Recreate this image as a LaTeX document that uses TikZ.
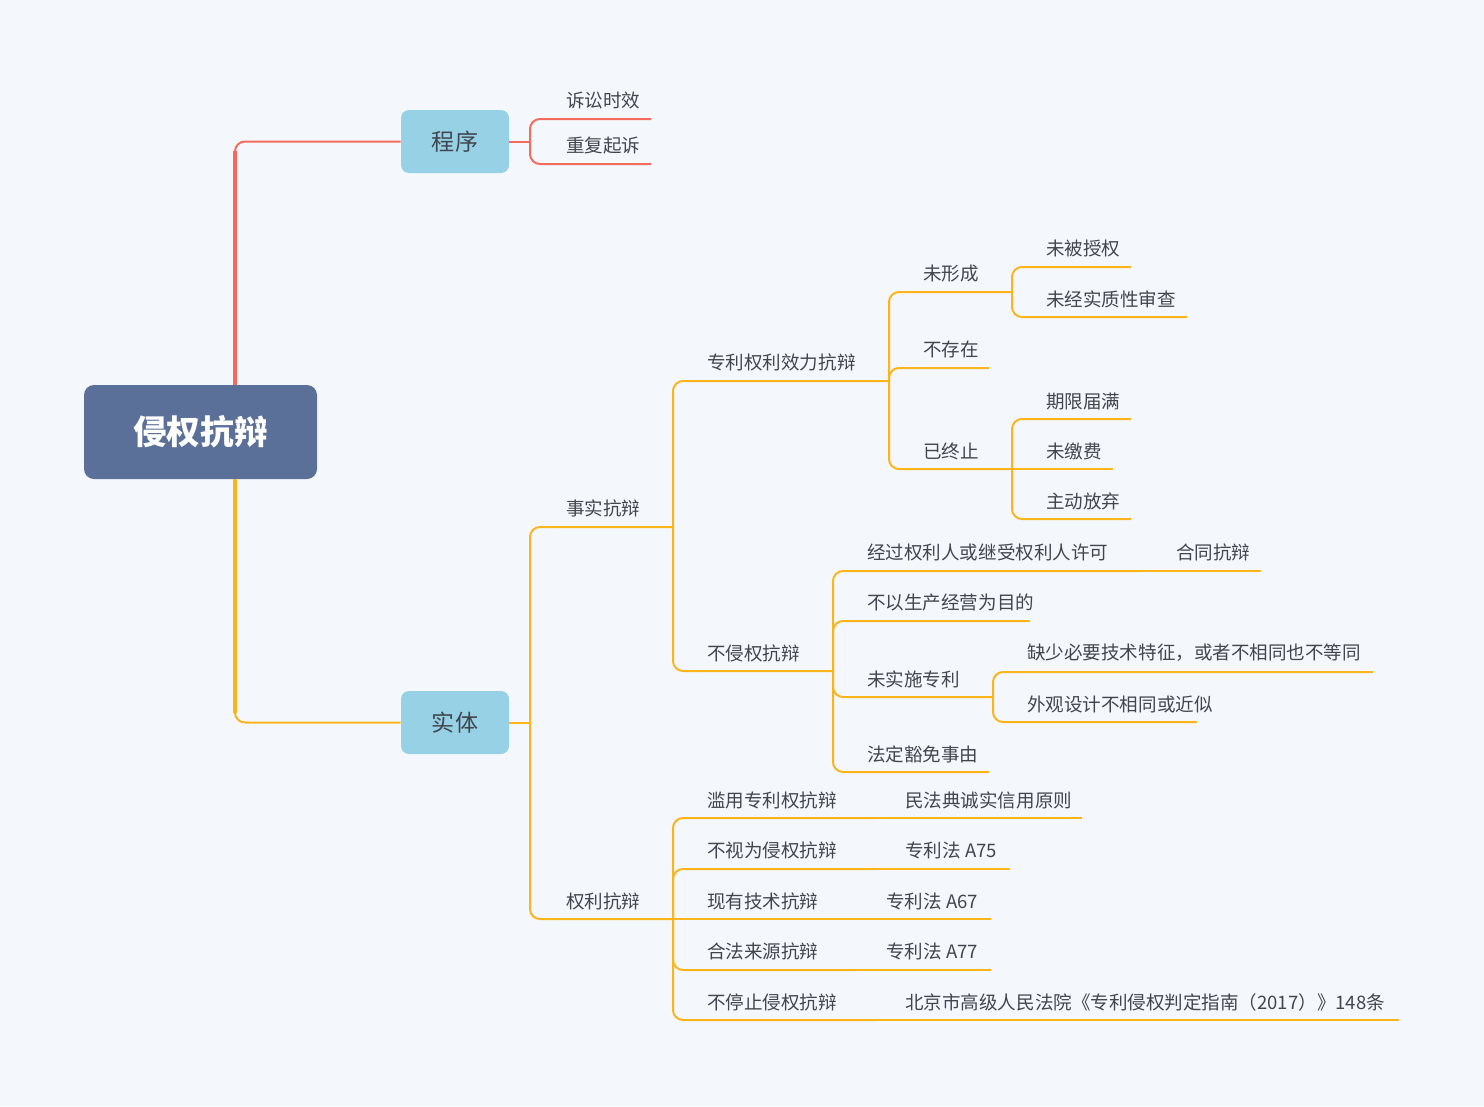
\documentclass[tikz,border=0pt]{standalone}
\usepackage{fontspec}
\setmainfont{Noto Sans CJK SC}
\usetikzlibrary{calc}
\definecolor{bg}{HTML}{F4F8FC}
\definecolor{txt}{HTML}{41464E}
\definecolor{rootc}{HTML}{5A7099}
\definecolor{boxc}{HTML}{97D1E6}
\definecolor{redc}{HTML}{F36B5C}
\definecolor{orc}{HTML}{FBB41A}
\begin{document}
\begin{tikzpicture}[x=0.75pt,y=-0.75pt,
  leaf/.style={anchor=west, inner sep=0pt, yshift=-0.75pt, font=\fontsize{13.9}{16}\selectfont, text=txt},
  oline/.style={draw=orc, line width=1.5pt, rounded corners=7.5pt},
  rline/.style={draw=redc, line width=1.5pt, rounded corners=7.5pt},
  subbox/.style={rounded corners=6pt, fill=boxc, minimum width=81pt, minimum height=47.25pt, inner sep=0pt, font=\fontsize{17.3}{20}\selectfont, text=txt},
  rootbox/.style={rounded corners=7.5pt, fill=rootc, minimum width=174.75pt, minimum height=70.5pt, inner sep=0pt, font=\fontsize{25.2}{30}\selectfont\bfseries, text=white}]
\useasboundingbox[fill=bg] (0,0) rectangle (1484,1106);

% main nodes
\node[rootbox] (root) at (200.5,432) {侵权抗辩};
\node[subbox] (cx) at (455,141.5) {程序};
\node[subbox] (st) at (455,722.5) {实体};

% root connectors
\coordinate (rtop) at ($(root.north)+(34.5,0)$);
\coordinate (rbot) at ($(root.south)+(34.5,0)$);
\draw[rline] (rtop) |- (cx.west);
\draw[draw=redc, line width=3.6pt] (rtop) -- ++(0,-234);
\draw[oline] (rbot) |- (st.west);
\draw[draw=orc, line width=3.6pt] (rbot) -- ++(0,234);

% 程序
\coordinate (cxh) at (530,141.5);
\draw[rline] (cx.east) -- (cxh);
\node[leaf] (s1) at (566,99) {诉讼时效};
\coordinate (s1e) at (651,119);
\draw[rline] (cxh) |- (s1e);
\node[leaf] (s2) at (566,145) {重复起诉};
\coordinate (s2e) at (651,164);
\draw[rline] (cxh) |- (s2e);

% 实体
\coordinate (sth) at (530,722.5);
\draw[oline] (st.east) -- (sth);
\node[leaf] (ss) at (566,507) {事实抗辩};
\coordinate (ssh) at (673,527);
\draw[oline] (sth) |- (ssh);
\node[leaf] (ql) at (566,900) {权利抗辩};
\coordinate (qlh) at (673,919);
\draw[oline] (sth) |- (qlh);

% 事实抗辩
\node[leaf] (zl) at (707,361) {专利权利效力抗辩};
\coordinate (zlh) at (889,381);
\draw[oline] (ssh) |- (zlh);
\node[leaf] (bq) at (707,652) {不侵权抗辩};
\coordinate (bqh) at (833,671);
\draw[oline] (ssh) |- (bqh);

% 专利权利效力抗辩
\node[leaf] (wx) at (923,273) {未形成};
\coordinate (wxh) at (1012,292);
\draw[oline] (zlh) |- (wxh);
\node[leaf] (bc) at (923,348) {不存在};
\coordinate (bce) at (989,368);
\draw[oline] (zlh) |- (bce);
\node[leaf] (yz) at (923,450) {已终止};
\coordinate (yzh) at (1012,469);
\draw[oline] (zlh) |- (yzh);

\node[leaf] (wb) at (1046,248) {未被授权};
\coordinate (wbe) at (1131,267);
\draw[oline] (wxh) |- (wbe);
\node[leaf] (wj) at (1046,298) {未经实质性审查};
\coordinate (wje) at (1187,317);
\draw[oline] (wxh) |- (wje);

\node[leaf] (qx) at (1046,400) {期限届满};
\coordinate (qxe) at (1131,419);
\draw[oline] (yzh) |- (qxe);
\node[leaf] (wjf) at (1046,450) {未缴费};
\coordinate (wjfe) at (1113,469);
\draw[oline] (yzh) -- (wjfe);
\node[leaf] (zd) at (1046,500) {主动放弃};
\coordinate (zde) at (1131,519);
\draw[oline] (yzh) |- (zde);

% 不侵权抗辩
\node[leaf] (jg) at (867,551) {经过权利人或继受权利人许可};
\coordinate (jgh) at (1140,571);
\draw[oline] (bqh) |- (jgh);
\node[leaf] (ht) at (1176,551) {合同抗辩};
\coordinate (hte) at (1261,571);
\draw[oline] (jgh) -- (hte);
\node[leaf] (by) at (867,601) {不以生产经营为目的};
\coordinate (bye) at (1030,621);
\draw[oline] (bqh) |- (bye);
\node[leaf] (ws) at (867,678) {未实施专利};
\coordinate (wsh) at (993,697);
\draw[oline] (bqh) |- (wsh);
\node[leaf] (qs) at (1027,652) {缺少必要技术特征，或者不相同也不等同};
\coordinate (qse) at (1373,672);
\draw[oline] (wsh) |- (qse);
\node[leaf] (wg) at (1027,703) {外观设计不相同或近似};
\coordinate (wge) at (1197,722);
\draw[oline] (wsh) |- (wge);
\node[leaf] (fd) at (867,753) {法定豁免事由};
\coordinate (fde) at (989,772);
\draw[oline] (bqh) |- (fde);

% 权利抗辩
\node[leaf] (ly) at (707,799) {滥用专利权抗辩};
\coordinate (lyh) at (875,818);
\draw[oline] (qlh) |- (lyh);
\node[leaf] (mf) at (905,799) {民法典诚实信用原则};
\coordinate (mfe) at (1082,818);
\draw[oline] (lyh) -- (mfe);

\node[leaf] (bs) at (707,849) {不视为侵权抗辩};
\coordinate (bsh) at (875,869);
\draw[oline] (qlh) |- (bsh);
\node[leaf] (a75) at (905,849) {专利法 A75};
\coordinate (a75e) at (1010,869);
\draw[oline] (bsh) -- (a75e);

\node[leaf] (xy) at (707,900) {现有技术抗辩};
\coordinate (xyh) at (856,919);
\draw[oline] (qlh) -- (xyh);
\node[leaf] (a67) at (886,900) {专利法 A67};
\coordinate (a67e) at (991,919);
\draw[oline] (xyh) -- (a67e);

\node[leaf] (hf) at (707,950) {合法来源抗辩};
\coordinate (hfh) at (856,970);
\draw[oline] (qlh) |- (hfh);
\node[leaf] (a77) at (886,950) {专利法 A77};
\coordinate (a77e) at (991,970);
\draw[oline] (hfh) -- (a77e);

\node[leaf] (bt) at (707,1001) {不停止侵权抗辩};
\coordinate (bth) at (875,1020);
\draw[oline] (qlh) |- (bth);
\node[leaf] (bj) at (905,1001) {北京市高级人民法院《专利侵权判定指南（2017）》148条};
\coordinate (bje) at (1399,1020);
\draw[oline] (bth) -- (bje);
\end{tikzpicture}
\end{document}
